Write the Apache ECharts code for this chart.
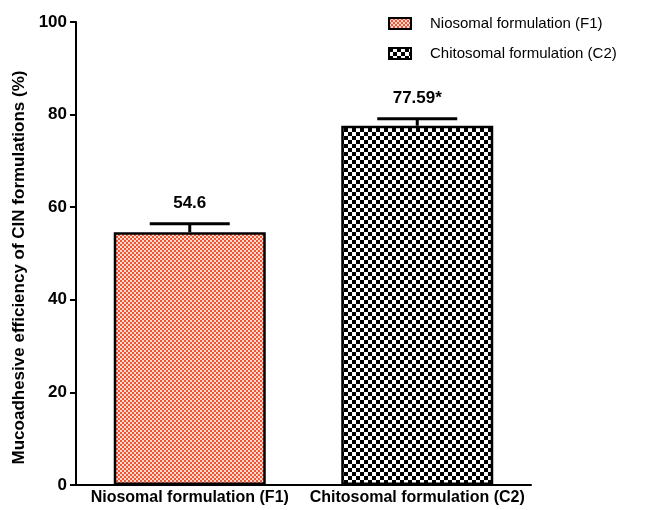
<!DOCTYPE html>
<html>
<head>
<meta charset="utf-8">
<script src="https://cdn.jsdelivr.net/npm/echarts@6/dist/echarts.min.js"></script>
<style>
  html, body { margin: 0; padding: 0; background: #fff; }
  #chart { width: 651px; height: 510px; }
</style>
</head>
<body>
<div id="chart"></div>
<script>
// Formulations and their mucoadhesive efficiency (%)
const categories = ['Niosomal formulation (F1)', 'Chitosomal formulation (C2)'];
const means = [54.6, 77.59];
const errors = [1.8, 1.5];
const valueLabels = ['54.6', '77.59*'];
const yTicks = [0, 20, 40, 60, 80, 100];

const FONT = 'Arial, "Liberation Sans", sans-serif';

// Checkerboard fill used for the bars and legend swatches
function checker(cell, a, b) {
  const c = document.createElement('canvas');
  c.width = cell * 2; c.height = cell * 2;
  const g = c.getContext('2d');
  g.fillStyle = b; g.fillRect(0, 0, cell * 2, cell * 2);
  g.fillStyle = a;
  g.fillRect(0, 0, cell, cell);
  g.fillRect(cell, cell, cell, cell);
  return { image: c, repeat: 'repeat' };
}
const fills = [checker(2, '#ee5634', '#fcd9cf'), checker(4, '#000000', '#ffffff')];

const chart = echarts.init(document.getElementById('chart'), null, { renderer: 'canvas' });

const barSeries = categories.map((name, i) => ({
  name: name,
  type: 'bar',
  barWidth: 152,
  barGap: '-100%',
  data: categories.map((_, j) => (j === i ? means[j] : '-')),
  itemStyle: { color: fills[i], borderColor: '#000', borderWidth: 2.5 },
  z: 2
}));

// Error bars with the value written above each cap
const errorSeries = {
  type: 'custom',
  name: 'error',
  data: means.map((m, i) => [i, m, errors[i]]),
  renderItem: function (params, api) {
    const x = api.value(0);
    const top = api.coord([x, api.value(1)]);
    const hi = api.coord([x, api.value(1) + api.value(2)]);
    const half = 40;
    return {
      type: 'group',
      children: [
        { type: 'line', shape: { x1: top[0], y1: top[1], x2: hi[0], y2: hi[1] }, style: { stroke: '#000', lineWidth: 3 } },
        { type: 'line', shape: { x1: hi[0] - half, y1: hi[1], x2: hi[0] + half, y2: hi[1] }, style: { stroke: '#000', lineWidth: 3 } },
        { type: 'text', x: hi[0], y: hi[1] - 21, style: { text: valueLabels[params.dataIndex], fill: '#000', font: 'bold 17px ' + FONT, align: 'center', verticalAlign: 'middle' } }
      ]
    };
  },
  z: 5
};

chart.setOption({
  backgroundColor: '#fff',
  animation: false,
  textStyle: { fontFamily: FONT },
  grid: { left: 76, right: 120, top: 22, bottom: 25, containLabel: false, outerBoundsMode: 'none' },
  legend: {
    orient: 'vertical',
    left: 383,
    top: 11,
    itemWidth: 22,
    itemHeight: 11,
    itemGap: 15,
    icon: 'rect',
    data: categories,
    textStyle: { fontSize: 15, color: '#000', fontFamily: FONT, padding: [0, 0, 0, 14] }
  },
  xAxis: {
    type: 'category',
    data: categories,
    axisLine: { lineStyle: { color: '#000', width: 2 } },
    axisTick: { alignWithLabel: true, length: 6, lineStyle: { color: '#000', width: 2 } },
    axisLabel: { color: '#000', fontWeight: 'bold', fontSize: 16, margin: 5, interval: 0 }
  },
  yAxis: {
    type: 'value',
    min: 0,
    max: 100,
    interval: 20,
    name: 'Mucoadhesive efficiency of CIN formulations (%)',
    nameLocation: 'middle',
    nameGap: 48,
    nameTextStyle: { color: '#000', fontWeight: 'bold', fontSize: 17, fontFamily: FONT, padding: [0, 28, 0, 0] },
    axisLine: { show: true, lineStyle: { color: '#000', width: 2 } },
    axisTick: { show: true, length: 6, lineStyle: { color: '#000', width: 2 } },
    axisLabel: { color: '#000', fontWeight: 'bold', fontSize: 17, margin: 9,
      formatter: v => (yTicks.indexOf(v) >= 0 ? String(v) : '') },
    splitLine: { show: false }
  },
  series: barSeries.concat([errorSeries])
});
</script>
</body>
</html>
